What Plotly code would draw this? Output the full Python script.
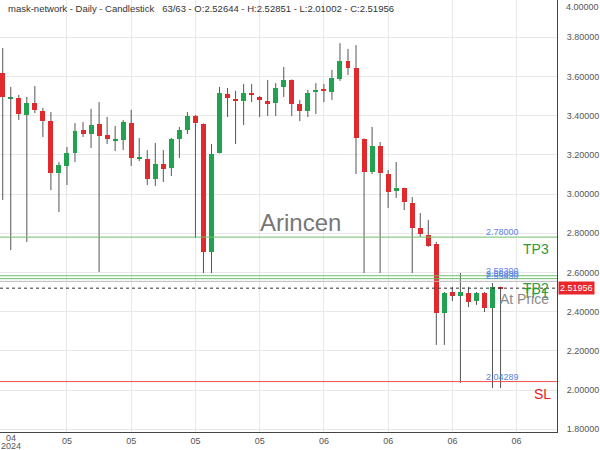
import plotly.graph_objects as go

opens = [3.617, 3.490, 3.490, 3.403, 3.464, 3.423, 3.372, 3.107, 3.143, 3.209,
         3.327, 3.306, 3.357, 3.301, 3.274, 3.276, 3.362, 3.184, 3.179, 3.077,
         3.153, 3.133, 3.281, 3.327, 3.398, 3.357, 2.704, 3.209, 3.510, 3.485,
         3.474, 3.515, 3.495, 3.474, 3.464, 3.546, 3.582, 3.459, 3.423, 3.520,
         3.536, 3.520, 3.587, 3.679, 3.643, 3.281, 3.112, 3.245, 3.102, 3.015,
         3.031, 2.954, 2.827, 2.791, 2.745, 2.393, 2.500, 2.480, 2.495, 2.454,
         2.495, 2.418, 2.52644]
highs = [3.745, 3.546, 3.505, 3.495, 3.551, 3.439, 3.418, 3.163, 3.240, 3.362,
         3.367, 3.434, 3.469, 3.393, 3.347, 3.378, 3.429, 3.286, 3.224, 3.260,
         3.224, 3.286, 3.342, 3.418, 3.403, 3.360, 3.255, 3.546, 3.541, 3.526,
         3.561, 3.561, 3.500, 3.582, 3.566, 3.648, 3.585, 3.480, 3.531, 3.566,
         3.561, 3.633, 3.770, 3.740, 3.760, 3.284, 3.342, 3.265, 3.122, 3.163,
         3.033, 2.985, 2.903, 2.867, 2.755, 2.500, 2.526, 2.597, 2.526, 2.500,
         2.500, 2.546, 2.52851]
lows = [2.969, 2.714, 3.378, 2.755, 3.413, 3.291, 3.020, 2.908, 3.046, 3.163,
        3.291, 3.235, 2.602, 3.255, 3.219, 3.224, 3.143, 3.168, 3.046, 3.041,
        3.061, 3.092, 3.184, 3.306, 2.776, 2.597, 2.597, 3.207, 3.393, 3.255,
        3.352, 3.469, 3.393, 3.398, 3.398, 3.495, 3.398, 3.372, 3.393, 3.408,
        3.469, 3.480, 3.577, 3.607, 3.102, 2.597, 3.102, 2.597, 2.929, 2.980,
        2.918, 2.597, 2.781, 2.730, 2.230, 2.230, 2.454, 2.036, 2.423, 2.434,
        2.398, 2.010, 2.01002]
closes = [3.495, 3.493, 3.408, 3.464, 3.429, 3.372, 3.107, 3.148, 3.209, 3.321,
          3.306, 3.352, 3.296, 3.281, 3.278, 3.367, 3.184, 3.188, 3.077, 3.153,
          3.128, 3.281, 3.327, 3.398, 3.362, 2.704, 3.204, 3.515, 3.490, 3.474,
          3.515, 3.510, 3.480, 3.459, 3.541, 3.582, 3.459, 3.423, 3.515, 3.531,
          3.526, 3.592, 3.679, 3.643, 3.286, 3.112, 3.245, 3.107, 3.010, 3.031,
          2.959, 2.827, 2.796, 2.735, 2.393, 2.495, 2.480, 2.500, 2.449, 2.495,
          2.418, 2.526, 2.51956]

x_tick_pos = [8, 16, 24, 32, 40, 48, 56, 64]
x_tick_text = ["05", "05", "05", "05", "06", "06", "06", "06"]
first_tick_month = "04"
first_tick_year = "2024"
y_ticks = [1.8, 2.0, 2.2, 2.4, 2.6, 2.8, 3.0, 3.2, 3.4, 3.6, 3.8]

tp_levels = [2.78, 2.583, 2.568]
tp_names = ["TP3", "TP2", "TP1"]
entry_level = 2.5543
sl_level = 2.04289
last_price = closes[-1]

RED = "#e02a2e"
GREEN = "#21a24f"
WICK = "#555555"
LINE_GREEN = "#6cbf6c"
BLUE_LBL = "#5b82e8"
FONT = "Liberation Sans, Arial, sans-serif"

n = len(opens)
xs = list(range(n))

wx, wy = [], []
for i in xs:
    top = max(opens[i], closes[i])
    bot = min(opens[i], closes[i])
    wx += [i, i, None, i, i, None]
    wy += [highs[i], top, None, bot, lows[i], None]

fig = go.Figure()
fig.add_trace(go.Scatter(x=wx, y=wy, mode="lines",
                         line=dict(color=WICK, width=1), hoverinfo="skip",
                         showlegend=False))

for up, col in [(True, GREEN), (False, RED)]:
    bx, bb, bh = [], [], []
    for i in xs:
        if (closes[i] >= opens[i]) == up:
            bx.append(i)
            lo = min(opens[i], closes[i])
            h = abs(closes[i] - opens[i])
            if h < 0.006:
                lo -= (0.006 - h) / 2
                h = 0.006
            bb.append(lo)
            bh.append(h)
    fig.add_trace(go.Bar(x=bx, y=bh, base=bb, width=0.62,
                         marker=dict(color=col, line=dict(width=0)),
                         showlegend=False))

shapes = []
for lv in tp_levels:
    shapes.append(dict(type="line", xref="paper", x0=0, x1=1, yref="y",
                       y0=lv, y1=lv, line=dict(color=LINE_GREEN, width=1)))
shapes.append(dict(type="line", xref="paper", x0=0, x1=1, yref="y",
                   y0=entry_level, y1=entry_level,
                   line=dict(color="#bbbbbb", width=1)))
shapes.append(dict(type="line", xref="paper", x0=0, x1=1, yref="y",
                   y0=last_price, y1=last_price,
                   line=dict(color="#333333", width=1, dash="dot")))
shapes.append(dict(type="line", xref="paper", x0=0, x1=1, yref="y",
                   y0=sl_level, y1=sl_level,
                   line=dict(color="#f05050", width=1)))

ann = []
for lv in tp_levels + [entry_level, sl_level]:
    ann.append(dict(x=521 / 557, xref="paper", y=lv, yref="y",
                    text=f"{lv:.5f}", showarrow=False, xanchor="right",
                    yanchor="bottom", font=dict(size=9, color=BLUE_LBL, family=FONT),
                    yshift=-2))

tp_label_y = {"TP3": 2.78, "TP2": 2.583, "TP1": 2.556}
for nm in ["TP1", "TP2", "TP3"]:
    ann.append(dict(x=551 / 557, xref="paper", y=tp_label_y[nm], yref="y",
                    text=nm, showarrow=False, xanchor="right", yanchor="top",
                    font=dict(size=14, color="#2e9a3a", family=FONT), yshift=-2))
ann.append(dict(x=551 / 557, xref="paper", y=last_price, yref="y",
                text="At Price", showarrow=False, xanchor="right", yanchor="top",
                font=dict(size=14, color="#8a8a8a", family=FONT), yshift=-1))
ann.append(dict(x=553 / 557, xref="paper", y=sl_level, yref="y",
                text="SL", showarrow=False, xanchor="right", yanchor="top",
                font=dict(size=14, color="#e82020", family=FONT), yshift=-2))

ann.append(dict(x=1, xref="paper", y=last_price, yref="y",
                text=f"{last_price:.5f}", showarrow=False, xanchor="left",
                xshift=1, font=dict(size=9, color="white", family=FONT),
                bgcolor="#e8262b", borderpad=1))

ann.append(dict(x=6 / 557, xref="paper", y=1, yref="paper", yanchor="top",
                xanchor="left", yshift=-1,
                text="mask-network - Daily - Candlestick   63/63 - O:2.52644 - H:2.52851 - L:2.01002 - C:2.51956",
                showarrow=False, font=dict(size=9.5, color="#333333", family=FONT)))
ann.append(dict(x=300 / 557, xref="paper", y=2.857, yref="y",
                text="Arincen", showarrow=False,
                font=dict(size=24, color="#777777", family=FONT)))
ann.append(dict(x=1, xref="paper", y=1, yref="paper", yanchor="top",
                xanchor="left", xshift=7, text="4.00000", showarrow=False,
                font=dict(size=9, color="#555555", family=FONT)))
ann.append(dict(x=1.0, xref="x", y=0, yref="paper", yanchor="top",
                text=first_tick_month, showarrow=False, yshift=0, borderpad=0,
                font=dict(size=9, color="#555555", family=FONT)))
ann.append(dict(x=1.0, xref="x", y=0, yref="paper", yanchor="top",
                text=first_tick_year, showarrow=False, yshift=-8, borderpad=0,
                font=dict(size=9, color="#555555", family=FONT)))

fig.update_layout(
    width=600, height=450,
    margin=dict(l=0, r=43, t=0, b=18),
    paper_bgcolor="white", plot_bgcolor="white",
    barmode="overlay", bargap=0,
    shapes=shapes, annotations=ann,
    showlegend=False,
    font=dict(family=FONT, size=9, color="#555555"),
)
fig.update_xaxes(range=[-0.34, 69.03], tickvals=x_tick_pos, ticktext=x_tick_text,
                 showgrid=True, gridcolor="#e8e8e8", gridwidth=1,
                 showline=True, linecolor="#444444", linewidth=1,
                 ticks="", ticklabelstandoff=0, zeroline=False,
                 tickfont=dict(size=9, color="#555555"))
fig.update_yaxes(range=[1.7857, 3.9898], side="right", tickvals=y_ticks,
                 tickformat=".5f", showgrid=True, gridcolor="#e8e8e8",
                 showline=True, linecolor="#444444", linewidth=1, mirror=False,
                 ticks="", ticklabelstandoff=7, zeroline=False,
                 tickfont=dict(size=9, color="#555555"))

fig.write_html("out.html")
